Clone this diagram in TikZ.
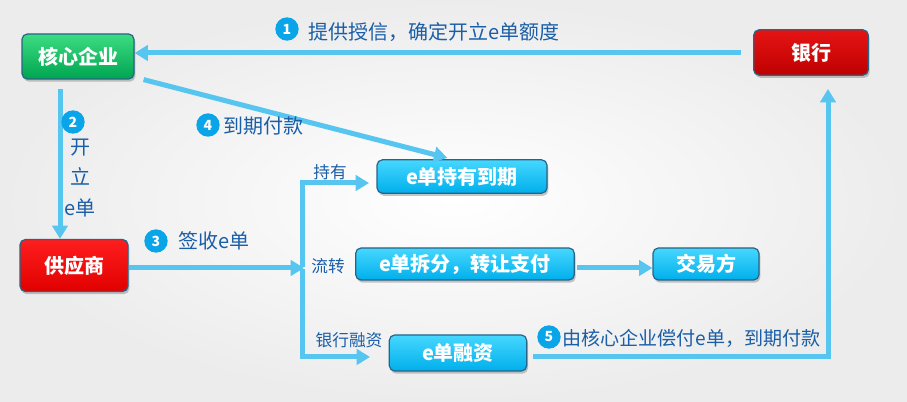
\documentclass[tikz,border=0pt]{standalone}
\usepackage{fontspec}
\setmainfont{Noto Sans CJK SC}
\usetikzlibrary{arrows.meta,shadows,calc}
\definecolor{arrc}{RGB}{86,197,240}
\definecolor{labc}{RGB}{26,94,168}
\definecolor{numc}{RGB}{10,165,232}
\definecolor{bordc}{RGB}{40,100,135}
\definecolor{gtop}{RGB}{60,220,130}
\definecolor{gbot}{RGB}{0,165,80}
\definecolor{rtop}{RGB}{230,20,20}
\definecolor{rbot}{RGB}{190,0,0}
\definecolor{stop}{RGB}{255,30,30}
\definecolor{sbot}{RGB}{225,0,0}
\definecolor{btop}{RGB}{70,215,255}
\definecolor{bbot}{RGB}{0,175,235}
\tikzset{
  arr/.style={draw=arrc, line width=3.75pt, -{Triangle[length=10pt,width=11.5pt]}},
  box/.style={rounded corners=4pt, draw=bordc, line width=0.9pt, text=white,
    font=\fontsize{15}{18}\selectfont\bfseries, inner sep=0pt,
    drop shadow={shadow xshift=1pt,shadow yshift=-2pt,opacity=0.45}},
  gbox/.style={box, top color=gtop, bottom color=gbot},
  rbox/.style={box, top color=rtop, bottom color=rbot},
  sbox/.style={box, top color=stop, bottom color=sbot},
  bbox/.style={box, top color=btop, bottom color=bbot, font=\fontsize{15}{17}\selectfont\bfseries},
  num/.style={circle, fill=numc, text=white, font=\fontsize{10.5}{11}\selectfont\bfseries, minimum size=17.5pt, inner sep=0pt},
  lab/.style={text=labc, font=\fontsize{15}{18}\selectfont, inner sep=0pt},
  slab/.style={text=labc, font=\fontsize{12.5}{15}\selectfont, inner sep=0pt},
}
\begin{document}
\begin{tikzpicture}[x=0.75pt,y=-0.75pt]
\useasboundingbox (0,0) rectangle (907,402);
\shade[inner color=white, outer color={rgb,255:red,236;green,236;blue,236}] (0,0) rectangle (907,402);

% nodes
\node[gbox, minimum width=84pt, minimum height=33.75pt] (core) at (78,56.5) {核心企业};
\node[rbox, minimum width=86pt, minimum height=34pt] (bank) at (811,52.5) {银行};
\node[sbox, minimum width=81pt, minimum height=39pt] (sup) at (74,265.5) {供应商};
\node[bbox, minimum width=127.5pt, minimum height=25pt] (hold) at (462,176.5) {e单持有到期};
\node[bbox, minimum width=164pt, minimum height=24pt] (split) at (465,264) {e单拆分，转让支付};
\node[bbox, minimum width=79.5pt, minimum height=24pt] (deal) at (706,264) {交易方};
\node[bbox, minimum width=103pt, minimum height=27pt] (fin) at (458,353) {e单融资};

% coordinates
\coordinate (branch) at (302,268);
\coordinate (holdtip) at (369,183);
\coordinate (fintip) at (370,357);
\coordinate (banktip) at (828,89);

% arrows
\draw[arr] ([xshift=-9pt]bank.west |- 0,53) -- (core.east |- 0,53);
\draw[arr] ([xshift=-13.5pt,yshift=-6.75pt]core.south) -- ([xshift=-13.5pt]core.south |- sup.north);
\draw[arr] (sup.east |- branch) -- ([xshift=1.5pt]branch);
\draw[arr] ([yshift=1pt]branch) |- (holdtip);
\draw[arr] ([yshift=-1pt]branch) |- (fintip);
\draw[arr] ([xshift=6.75pt]core.south east) -- ([xshift=-11pt,yshift=1pt]hold.north);
\draw[arr] ([xshift=1.5pt,yshift=-3pt]split.east) -- ([yshift=-3pt]deal.west);
\draw[arr] ([xshift=4.5pt,yshift=-3pt]fin.east) -| (banktip);

% labels
\node[num] (n1) at (287,29) {1};
\node[lab, anchor=west] (t1) at (308,32) {提供授信，确定开立e单额度};
\node[num] (n2) at (73,122) {2};
\node[lab, align=center, font=\fontsize{15}{23}\selectfont] (t2) at (80,178) {开\\立\\e单};
\node[num] (n3) at (156,241) {3};
\node[lab, anchor=west] (t3) at (178,241) {签收e单};
\node[num] (n4) at (208,125) {4};
\node[lab, anchor=west] (t4) at (223,126) {到期付款};
\node[num] (n5) at (549,337) {5};
\node[lab, anchor=west, font=\fontsize{14.3}{17}\selectfont] (t5) at (562,338) {由核心企业偿付e单，到期付款};
\node[slab] (l1) at (330,172) {持有};
\node[slab] (l2) at (328,266) {流转};
\node[slab] (l3) at (349,340) {银行融资};
\end{tikzpicture}
\end{document}
